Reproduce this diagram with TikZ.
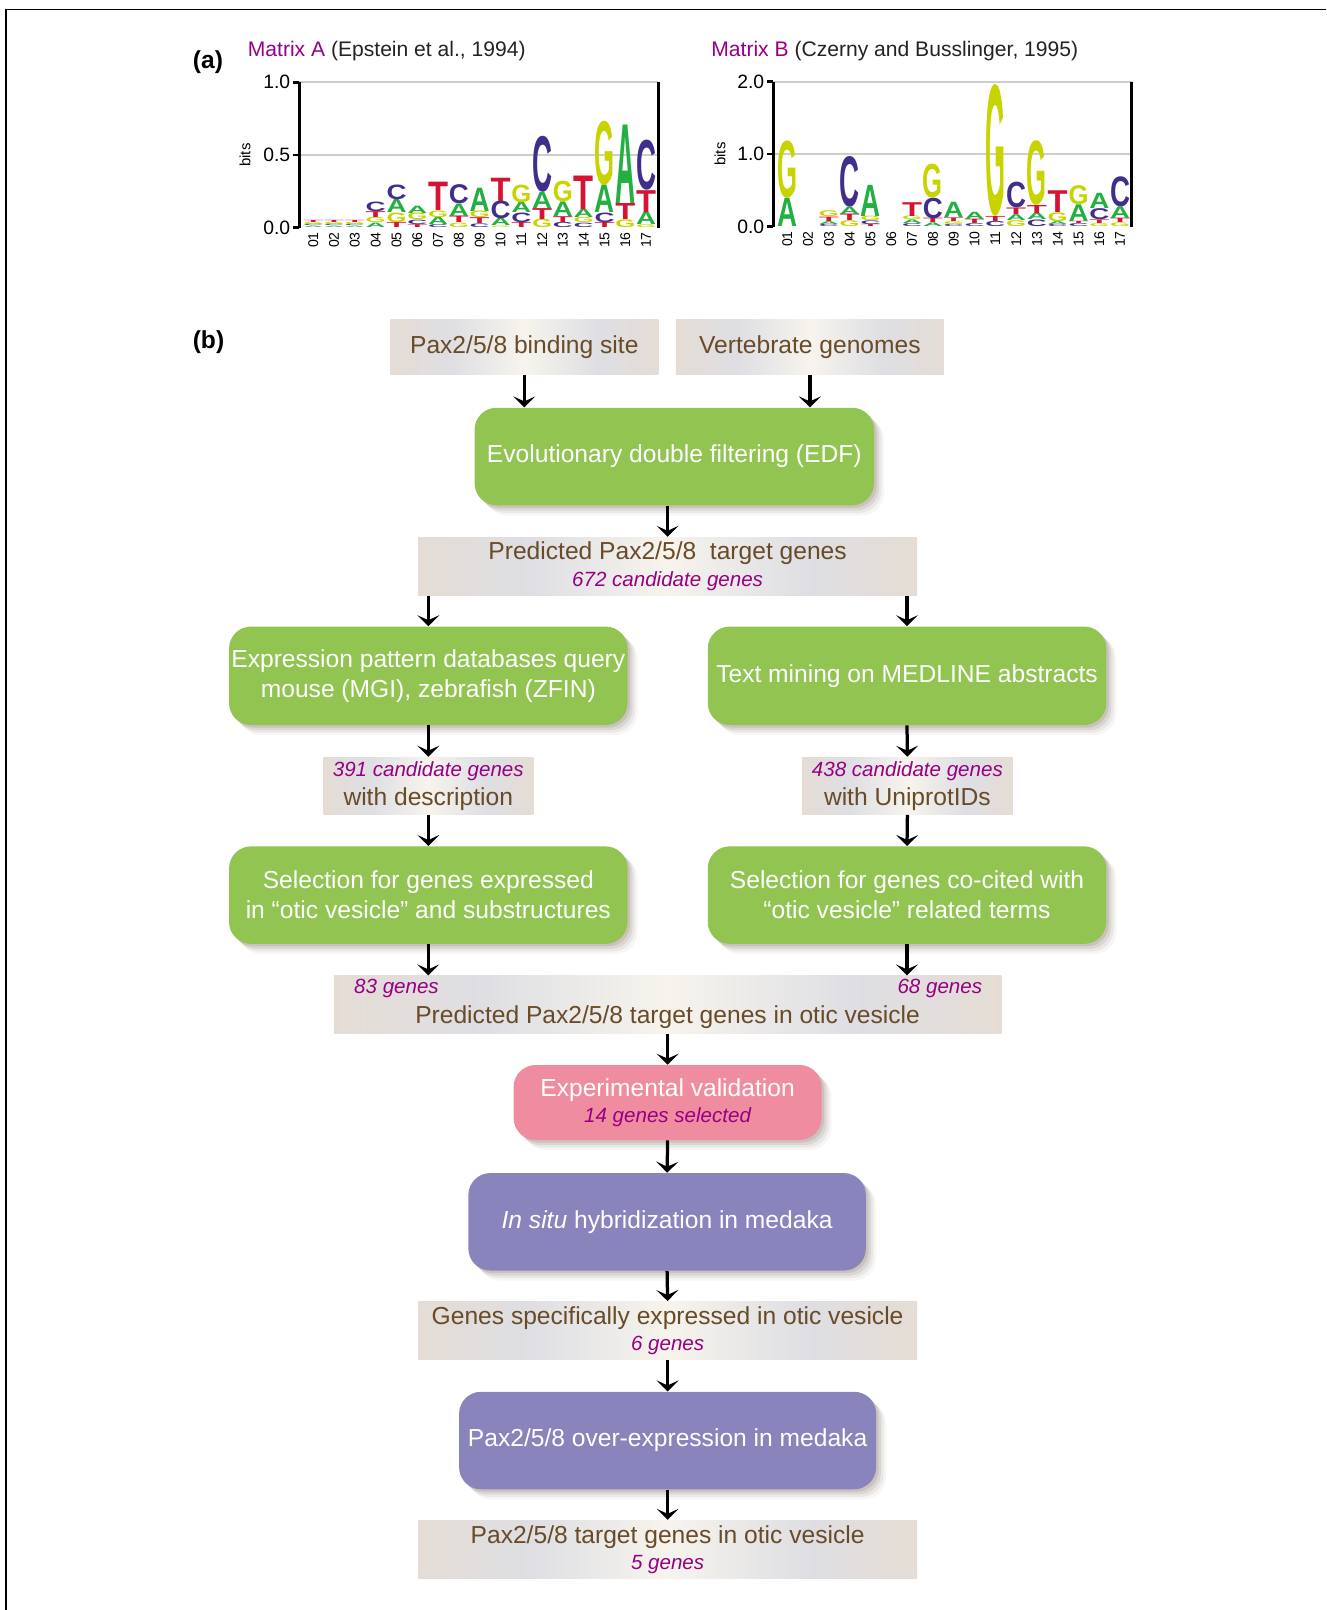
\documentclass[tikz,border=0pt]{standalone}
\usepackage{fontspec}
\setmainfont{Liberation Sans}
\usepackage{graphicx}
\usetikzlibrary{arrows.meta,shadows}

\definecolor{colA}{RGB}{35,175,65}
\definecolor{colC}{RGB}{65,45,140}
\definecolor{colG}{RGB}{200,212,0}
\definecolor{colT}{RGB}{212,20,50}
\definecolor{edfgreen}{RGB}{146,196,82}
\definecolor{valpink}{RGB}{240,140,160}
\definecolor{medakablue}{RGB}{137,132,187}
\definecolor{labelbrown}{RGB}{105,75,40}
\definecolor{countmagenta}{RGB}{150,0,130}
\definecolor{beigeedge}{RGB}{229,221,213}
\definecolor{beigegray}{RGB}{222,222,227}
\definecolor{beigecream}{RGB}{247,244,237}
\definecolor{gridgray}{RGB}{205,205,205}
\definecolor{titlegray}{RGB}{35,35,35}
\definecolor{shadowbrown}{RGB}{90,70,55}

\pgfdeclarehorizontalshading{beigeshade}{100bp}{color(0bp)=(beigeedge); color(25bp)=(beigeedge); color(36bp)=(beigegray); color(50bp)=(beigecream); color(64bp)=(beigegray); color(75bp)=(beigeedge); color(100bp)=(beigeedge)}

\newcommand{\genecount}[1]{{\fontsize{11.7}{14}\selectfont\itshape\color{countmagenta}#1}}

% one column of a sequence logo: x, base y, px per bit, letters bottom to top
\newcommand{\logostack}[4]{%
  \xdef\stackbase{#2}%
  \edef\stacklist{#4}%
  \foreach \ltr/\bitval in \stacklist{%
    \pgfmathparse{\bitval>0 ? 1 : 0}%
    \ifnum\pgfmathresult=1
      \pgfmathsetlengthmacro{\letterht}{\bitval*#3*0.2mm}%
      \node[logoletter] at (#1,\stackbase) {\resizebox{4mm}{\letterht}{\color{col\ltr}\ltr}};%
      \pgfmathparse{\stackbase-\bitval*#3}\xdef\stackbase{\pgfmathresult}%
    \fi
  }%
}

\tikzset{
  labelbox/.style={shading=beigeshade, text=labelbrown, align=center, inner sep=0pt, font=\fontsize{14}{17}\selectfont},
  softshadow/.style={
    drop shadow={shadow xshift=0.5mm, shadow yshift=-0.5mm, fill=shadowbrown, opacity=0.14},
    drop shadow={shadow xshift=1.0mm, shadow yshift=-1.0mm, fill=shadowbrown, opacity=0.11},
    drop shadow={shadow xshift=1.5mm, shadow yshift=-1.5mm, fill=shadowbrown, opacity=0.08},
    drop shadow={shadow xshift=2.0mm, shadow yshift=-2.0mm, fill=shadowbrown, opacity=0.05}},
  stepbox/.style={rounded corners=4.4mm, text=white, align=center, inner sep=0pt, font=\fontsize{14}{17}\selectfont, softshadow},
  flowarrow/.style={-{Stealth[length=2.2mm,width=4.4mm,inset=1mm]}, line width=0.65mm},
  logoletter/.style={inner sep=0pt, anchor=south, font=\bfseries},
  ticklabel/.style={anchor=east, inner sep=0pt, font=\fontsize{11}{13}\selectfont},
  poslabel/.style={rotate=90, anchor=east, inner sep=0pt, font=\fontsize{8}{10}\selectfont},
}

\begin{document}
\begin{tikzpicture}[x=0.2mm, y=-0.2mm]
\useasboundingbox (0,0) rectangle (1326,1610);
\draw[line width=0.3mm] (6,1610) -- (6,9.5) -- (1326,9.5);

%% (a) logos
\node[font=\fontsize{14}{17}\selectfont\bfseries] (parta) at (208,62) {(a)};
\node[anchor=west, inner sep=0pt, text=titlegray, font=\fontsize{12}{14}\selectfont] (titleA) at (247.5,51) {\textcolor{countmagenta}{Matrix A} (Epstein et al., 1994)};
\node[anchor=west, inner sep=0pt, text=titlegray, font=\fontsize{12}{14}\selectfont] (titleB) at (711,51) {\textcolor{countmagenta}{Matrix B} (Czerny and Busslinger, 1995)};

% matrix A
\draw[gridgray, line width=0.35mm] (299.3,155) -- (658,155) (299.3,82.3) -- (658,82.3);
\foreach \y/\t [count=\k] in {227.7/0.0,155/0.5,82.3/1.0}{
  \draw[line width=0.5mm] (293,\y) -- (299.3,\y);
  \node[ticklabel] (tickA\k) at (290.5,\y) {\t};
}
\node[rotate=90, font=\fontsize{8.5}{10}\selectfont] (bitsA) at (245,155) {bits};
\foreach [count=\i] \lst in {{A/.01,C/.01,G/.015,T/.015},{A/.01,C/.01,G/.015,T/.015},{A/.01,C/.01,G/.015,T/.015},
  {A/.03,G/.035,T/.04,C/.065},{T/.035,G/.065,A/.09,C/.10},{T/.02,C/.03,G/.045,A/.05},
  {C/.02,A/.05,G/.045,T/.195},{G/.03,T/.045,A/.085,C/.13},{C/.025,T/.04,G/.045,A/.16},
  {G/.01,A/.05,C/.12,T/.16},{T/.035,C/.065,A/.07,G/.12},{G/.057,T/.075,A/.11,C/.38},
  {C/.035,T/.04,A/.10,G/.14},{C/.03,G/.035,A/.057,T/.23},{T/.035,C/.065,A/.19,G/.435},
  {G/.053,T/.11,A/.54},{G/.02,A/.085,T/.15,C/.34}}{
  \pgfmathsetmacro\cx{313.3+(\i-1)*20.8}
  \logostack{\cx}{227.7}{145.4}{\lst}
}
\draw[line width=0.6mm] (299.3,82.3) -- (299.3,227.7);
\draw[line width=0.6mm] (658,82.3) -- (658,227.7);

% matrix B
\draw[gridgray, line width=0.35mm] (773.3,154.2) -- (1131.7,154.2) (773.3,81.7) -- (1131.7,81.7);
\foreach \y/\t [count=\k] in {226.7/0.0,154.2/1.0,81.7/2.0}{
  \draw[line width=0.5mm] (767,\y) -- (773.3,\y);
  \node[ticklabel] (tickB\k) at (764.5,\y) {\t};
}
\node[rotate=90, font=\fontsize{8.5}{10}\selectfont] (bitsB) at (720,154) {bits};
\foreach [count=\i] \lst in {{A/.39,G/.78},{A/0},{C/.03,A/.04,T/.06,G/.08},
  {G/.08,T/.09,A/.10,C/.69},{T/.03,C/.05,G/.06,A/.43},{A/0},
  {C/.04,A/.05,G/.05,T/.19},{A/.05,T/.06,C/.28,G/.46},{C/.03,G/.04,T/.05,A/.21},
  {C/.04,T/.06,A/.10},{C/.07,T/.07,G/1.79},{G/.08,A/.08,T/.09,C/.35},
  {C/.09,A/.09,T/.11,G/.88},{C/.03,A/.04,G/.12,T/.30},{C/.04,T/.03,A/.23,G/.26},
  {G/.04,T/.05,C/.15,A/.21},{G/.05,T/.06,A/.16,C/.41}}{
  \pgfmathsetmacro\cx{787.3+(\i-1)*20.8}
  \logostack{\cx}{226.7}{72.5}{\lst}
}
\draw[line width=0.6mm] (773.3,81.7) -- (773.3,226.7);
\draw[line width=0.6mm] (1131.7,81.7) -- (1131.7,226.7);

% position numbers
\foreach \n [count=\i] in {01,02,03,04,05,06,07,08,09,10,11,12,13,14,15,16,17}{
  \node[poslabel] (posA\i) at (313.3+\i*20.8-20.8,232) {\n};
  \node[poslabel] (posB\i) at (787.3+\i*20.8-20.8,231) {\n};
}

%% (b) pipeline
\node[font=\fontsize{14}{17}\selectfont\bfseries] (partb) at (208.5,342) {(b)};

\node[labelbox, minimum width=53.6mm, minimum height=11.1mm] (site) at (524.3,347.2) {Pax2/5/8 binding site};
\node[labelbox, minimum width=53.6mm, minimum height=11.1mm] (genomes) at (809.9,347.2) {Vertebrate genomes};
\node[stepbox, fill=edfgreen, minimum width=79.9mm, minimum height=19.5mm] (edf) at (674.3,456.5) {Evolutionary double filtering (EDF)};
\node[labelbox, minimum width=99.8mm, minimum height=11.7mm] (pred) at (667.6,566.4) {Predicted Pax2/5/8~ target genes\\[-1.8pt]\genecount{672 candidate genes}};

\node[stepbox, fill=edfgreen, minimum width=79.7mm, minimum height=19.7mm] (exprq) at (428.3,675.8) {Expression pattern databases query\\mouse (MGI), zebrafish (ZFIN)};
\node[stepbox, fill=edfgreen, minimum width=79.7mm, minimum height=19.7mm] (medline) at (907,675.8) {Text mining on MEDLINE abstracts};

\node[labelbox, minimum width=42mm, minimum height=11.5mm] (desc) at (428.3,785.8) {\genecount{391 candidate genes}\\[-0.7pt]with description};
\node[labelbox, minimum width=42.2mm, minimum height=11.5mm] (uniprot) at (907.4,785.8) {\genecount{438 candidate genes}\\[-0.7pt]with UniprotIDs};

\node[stepbox, fill=edfgreen, minimum width=79.7mm, minimum height=19.5mm] (selexpr) at (428.3,895.1) {Selection for genes expressed\\in “otic vesicle” and substructures};
\node[stepbox, fill=edfgreen, minimum width=79.7mm, minimum height=19.5mm] (selcite) at (907,895.1) {Selection for genes co-cited with\\“otic vesicle” related terms};

\node[labelbox, minimum width=133.5mm, minimum height=11.5mm] (oticbox) at (667.6,1004.5) {};
\node[text=labelbrown, font=\fontsize{14}{17}\selectfont, inner sep=0pt] (otictext) at (667.6,1016.8) {Predicted Pax2/5/8 target genes in otic vesicle};
\node[inner sep=0pt] (count83) at (396.5,988) {\genecount{83 genes}};
\node[inner sep=0pt] (count68) at (939.8,988) {\genecount{68 genes}};

\node[stepbox, fill=valpink, minimum width=61.6mm, minimum height=15mm] (validation) at (667.6,1102.5) {Experimental validation\\[-2.4pt]\genecount{14 genes selected}};
\node[stepbox, fill=medakablue, minimum width=79.5mm, minimum height=19.5mm] (insitu) at (667.1,1221.8) {\textit{In situ} hybridization in medaka};
\node[labelbox, minimum width=99.8mm, minimum height=11.7mm] (specific) at (667.6,1330.6) {Genes specifically expressed in otic vesicle\\[-1.8pt]\genecount{6 genes}};
\node[stepbox, fill=medakablue, minimum width=83.4mm, minimum height=19.5mm] (overexpr) at (667.6,1440.5) {Pax2/5/8 over-expression in medaka};
\node[labelbox, minimum width=99.8mm, minimum height=11.7mm] (targets) at (667.6,1549.4) {Pax2/5/8 target genes in otic vesicle\\[-2.4pt]\genecount{5 genes}};

\draw[flowarrow] (site.south) -- (site.south |- edf.north);
\draw[flowarrow] (genomes.south) -- (genomes.south |- edf.north);
\draw[flowarrow] (pred.north |- edf.south) -- (pred.north);
\draw[flowarrow] (exprq.north |- pred.south) -- (exprq.north);
\draw[flowarrow] (medline.north |- pred.south) -- (medline.north);
\draw[flowarrow] (exprq.south) -- (desc.north);
\draw[flowarrow] (medline.south) -- (uniprot.north);
\draw[flowarrow] (desc.south) -- (selexpr.north);
\draw[flowarrow] (uniprot.south) -- (selcite.north);
\draw[flowarrow] (selexpr.south) -- (selexpr.south |- oticbox.north);
\draw[flowarrow] (selcite.south) -- (selcite.south |- oticbox.north);
\draw[flowarrow] (oticbox.south) -- (validation.north);
\draw[flowarrow] (validation.south) -- (insitu.north);
\draw[flowarrow] (insitu.south) -- (specific.north);
\draw[flowarrow] (specific.south) -- (overexpr.north);
\draw[flowarrow] (overexpr.south) -- (targets.north);
\end{tikzpicture}
\end{document}
